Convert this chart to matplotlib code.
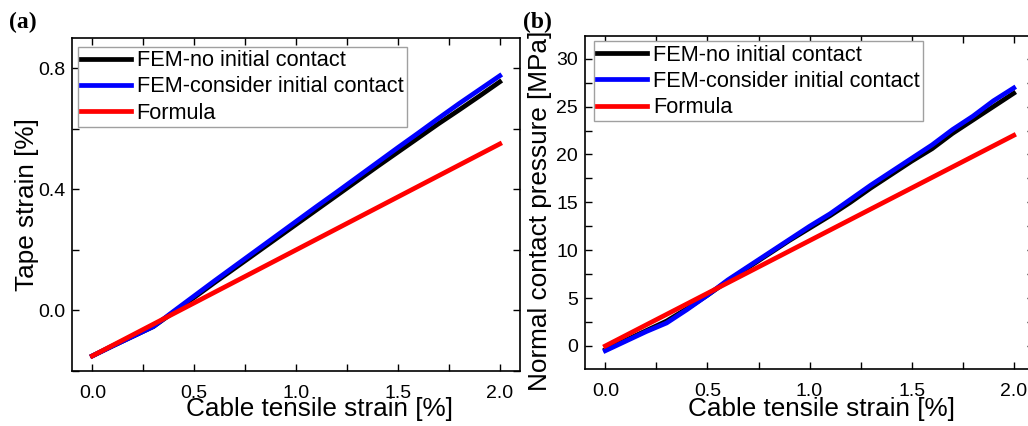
import matplotlib

matplotlib.use("Agg")
import matplotlib.pyplot as plt  # noqa: E402
from matplotlib.ticker import MultipleLocator  # noqa: E402

plt.rcParams["font.family"] = ["Liberation Sans", "DejaVu Sans"]

# cable tensile strain [%], shared by both panels
strain = [0.0, 0.1, 0.2, 0.3, 0.4, 0.5, 0.6, 0.7, 0.8, 0.9, 1.0,
          1.1, 1.2, 1.3, 1.4, 1.5, 1.6, 1.7, 1.8, 1.9, 2.0]

# (a) tape strain [%]
tape_no_contact = [-0.150, -0.117, -0.085, -0.053, -0.005, 0.043, 0.092, 0.140, 0.188, 0.236, 0.284,
                   0.332, 0.380, 0.428, 0.476, 0.523, 0.570, 0.617, 0.662, 0.708, 0.755]
tape_init_contact = [-0.150, -0.117, -0.085, -0.053, -0.002, 0.048, 0.098, 0.147, 0.196, 0.245, 0.294,
                     0.343, 0.391, 0.440, 0.489, 0.538, 0.586, 0.635, 0.683, 0.729, 0.775]
formula_strain = [0.0, 2.0]
tape_formula = [-0.150, 0.550]

# (b) normal contact pressure [MPa]
press_no_contact = [-0.4, 0.6, 1.6, 2.6, 3.9, 5.3, 6.8, 8.2, 9.6, 11.0, 12.3,
                    13.6, 15.0, 16.5, 17.9, 19.3, 20.6, 22.2, 23.6, 25.0, 26.4]
press_init_contact = [-0.5, 0.5, 1.5, 2.4, 3.8, 5.3, 6.9, 8.3, 9.7, 11.1, 12.5,
                      13.8, 15.3, 16.8, 18.2, 19.6, 21.0, 22.6, 24.0, 25.6, 26.95]
press_formula = [0.0, 22.0]

LABELS = ["FEM-no initial contact", "FEM-consider initial contact", "Formula"]
COLORS = ["black", "#0000ff", "#ff0000"]
LW = 3.4


def style_axis(ax, ymajor, yminor, xlabel_xy):
    ax.xaxis.set_major_locator(MultipleLocator(0.5))
    ax.xaxis.set_minor_locator(MultipleLocator(0.25))
    ax.yaxis.set_major_locator(MultipleLocator(ymajor))
    ax.yaxis.set_minor_locator(MultipleLocator(yminor))
    ax.tick_params(which="both", direction="in", top=True, right=True, width=1.0)
    ax.tick_params(which="major", length=5, labelsize=14)
    ax.tick_params(which="minor", length=5)
    ax.tick_params(axis="y", pad=5)
    ax.tick_params(axis="x", pad=10)
    for s in ax.spines.values():
        s.set_linewidth(1.2)
    ax.set_xlim(-0.1, 2.1)
    ax.set_xlabel("Cable tensile strain [%]", fontsize=18.8)
    ax.xaxis.set_label_coords(*xlabel_xy)


fig = plt.figure(figsize=(10.28, 4.26), dpi=100)
ax_a = fig.add_axes([0.070, 0.129, 0.436, 0.782])
ax_b = fig.add_axes([0.569, 0.134, 0.437, 0.782])

for y, lab, c in zip([tape_no_contact, tape_init_contact], LABELS[:2], COLORS[:2]):
    ax_a.plot(strain, y, color=c, lw=LW, label=lab)
ax_a.plot(formula_strain, tape_formula, color=COLORS[2], lw=LW, label=LABELS[2])
ax_a.set_ylim(-0.2, 0.9)
style_axis(ax_a, 0.4, 0.2, (0.553, -0.078))
ax_a.set_ylabel("Tape strain [%]", fontsize=18.8, labelpad=-1)

for y, lab, c in zip([press_no_contact, press_init_contact], LABELS[:2], COLORS[:2]):
    ax_b.plot(strain, y, color=c, lw=LW, label=lab)
ax_b.plot(formula_strain, press_formula, color=COLORS[2], lw=LW, label=LABELS[2])
ax_b.set_ylim(-2.4, 32.4)
style_axis(ax_b, 5, 2.5, (0.526, -0.085))
ax_b.set_ylabel("Normal contact pressure [MPa]", fontsize=18.8)
ax_b.yaxis.set_label_coords(-0.073, 0.474)

for ax, anchor in ((ax_a, (0.013, 0.973)), (ax_b, (0.02, 0.983))):
    leg = ax.legend(loc="upper left", bbox_to_anchor=anchor, borderaxespad=0,
                    fontsize=15.7, fancybox=False, framealpha=1, handlelength=2.3,
                    handletextpad=0.25, borderpad=0.15, labelspacing=0.24)
    leg.get_frame().set_edgecolor("#a0a0a0")
    leg.get_frame().set_linewidth(1.0)

fig.text(0.009, 0.935, "(a)", family="Liberation Serif", weight="bold", fontsize=17)
fig.text(0.509, 0.935, "(b)", family="Liberation Serif", weight="bold", fontsize=17)

fig.savefig("out.png", dpi=100)
